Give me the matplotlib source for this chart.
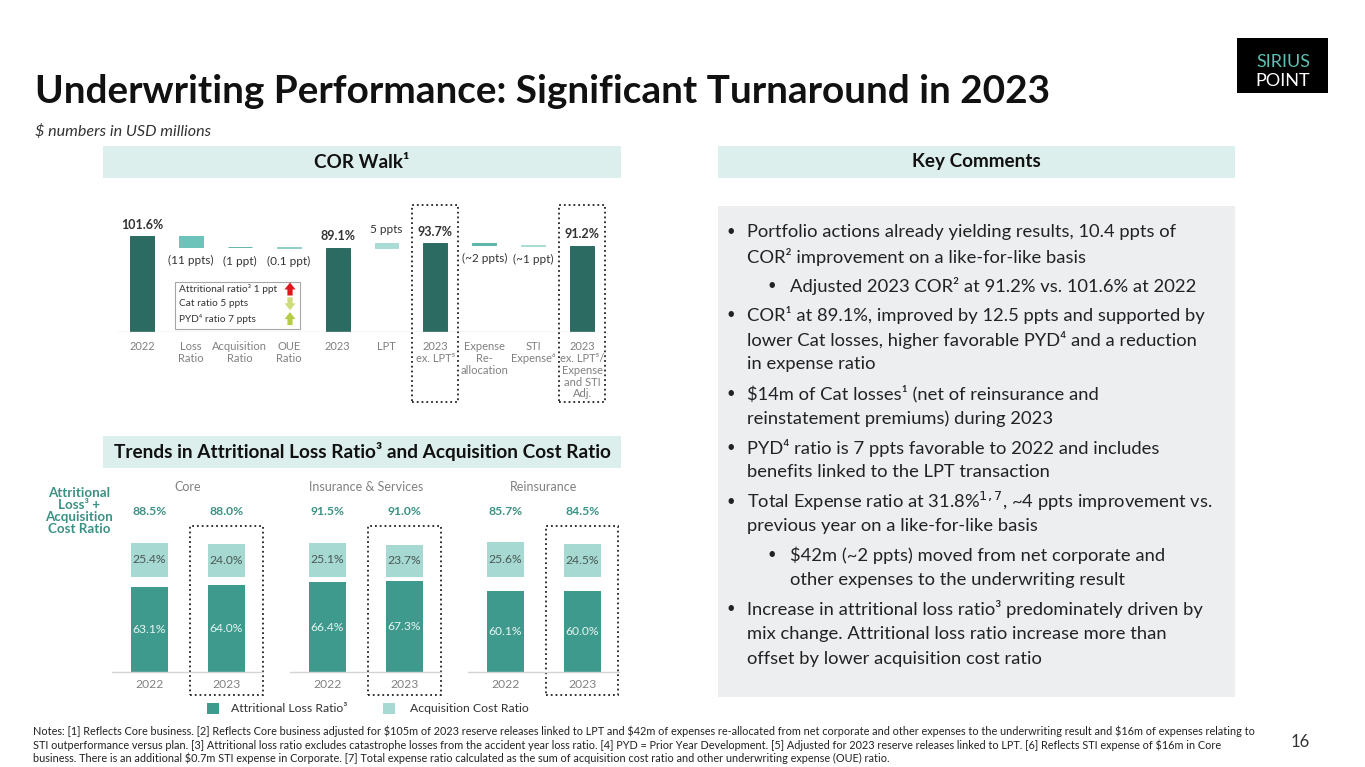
import matplotlib
matplotlib.use("Agg")
import matplotlib.pyplot as plt
from matplotlib.patches import Rectangle, Polygon

# COR walk data
cor_cats = ["2022", "Loss\nRatio", "Acquisition\nRatio", "OUE\nRatio", "2023", "LPT",
            "2023\nex. LPT⁵", "Expense\nRe-\nallocation", "STI\nExpense⁶",
            "2023\nex. LPT⁵/\nExpense\nand STI\nAdj."]
cor_values = [101.6, -11.4, -1.0, -0.1, 89.1, 4.6, 93.7, -1.8, -0.7, 91.2]
cor_is_total = [True, False, False, False, True, False, True, False, False, True]
cor_labels = ["101.6%", "(11 ppts)", "(1 ppt)", "(0.1 ppt)", "89.1%", "5 ppts", "93.7%",
              "(~2 ppts)", "(~1 ppt)", "91.2%"]
cor_boxed = [6, 9]

loss_notes = ["Attritional ratio³ 1 ppt", "Cat ratio 5 ppts", "PYD⁴ ratio 7 ppts"]
loss_dirs = ["up", "down", "up"]

# trends data
segments = ["Core", "Insurance & Services", "Reinsurance"]
years = ["2022", "2023"]
attritional = [[63.1, 64.0], [66.4, 67.3], [60.1, 60.0]]
acquisition = [[25.4, 24.0], [25.1, 23.7], [25.6, 24.5]]
combined = [[88.5, 88.0], [91.5, 91.0], [85.7, 84.5]]

comments = [
    (0, True, "Portfolio actions already yielding results, 10.4 ppts of"),
    (0, False, "COR² improvement on a like-for-like basis"),
    (1, True, "Adjusted 2023 COR² at 91.2% vs. 101.6% at 2022"),
    (0, True, "COR¹ at 89.1%, improved by 12.5 ppts and supported by"),
    (0, False, "lower Cat losses, higher favorable PYD⁴ and a reduction"),
    (0, False, "in expense ratio"),
    (0, True, "$14m of Cat losses¹ (net of reinsurance and"),
    (0, False, "reinstatement premiums) during 2023"),
    (0, True, "PYD⁴ ratio is 7 ppts favorable to 2022 and includes"),
    (0, False, "benefits linked to the LPT transaction"),
    (0, True, "Total Expense ratio at 31.8%$^{1,7}$, ~4 ppts improvement vs."),
    (0, False, "previous year on a like-for-like basis"),
    (1, True, "\\$42m (~2 ppts) moved from net corporate and"),
    (1, False, "other expenses to the underwriting result"),
    (0, True, "Increase in attritional loss ratio³ predominately driven by"),
    (0, False, "mix change. Attritional loss ratio increase more than"),
    (0, False, "offset by lower acquisition cost ratio"),
]

notes = [
    "Notes: [1] Reflects Core business. [2] Reflects Core business adjusted for $105m of 2023 reserve releases linked to LPT and $42m of expenses re-allocated from net corporate and other expenses to the underwriting result and $16m of expenses relating to",
    "STI outperformance versus plan. [3] Attritional loss ratio excludes catastrophe losses from the accident year loss ratio. [4] PYD = Prior Year Development. [5] Adjusted for 2023 reserve releases linked to LPT. [6] Reflects STI expense of $16m in Core",
    "business. There is an additional $0.7m STI expense in Corporate. [7] Total expense ratio calculated as the sum of acquisition cost ratio and other underwriting expense (OUE) ratio.",
]

# colours
DARK = "#2B6B62"
TEAL = "#3E9A8D"
LIGHT = "#A5D9D1"
MINT = "#DCEFEC"
GREY_BOX = "#EDEEF0"
TEAL_TXT = "#3A9184"
GREY_TXT = "#808080"
cor_colors = [DARK, "#6CC3B9", "#5FB5AA", "#8FCFC7", DARK, "#A9DCD5", DARK, "#5FB5AA", "#A9DCD5", DARK]
arrow_colors = ["#E3161C", "#CFDC7E", "#B5CC48"]

plt.rcParams["font.family"] = ["Lato", "DejaVu Sans"]

W, H = 1365, 767
fig = plt.figure(figsize=(W / 100, H / 100), dpi=100)
fig.patch.set_facecolor("white")
renderer = fig.canvas.get_renderer()


def fx(x):
    return x / W


def fy(y):
    return 1 - y / H


def box(x0, y0, x1, y1, **kw):
    fig.add_artist(Rectangle((fx(x0), fy(y1)), (x1 - x0) / W, (y1 - y0) / H,
                             transform=fig.transFigure, **kw))


def text(x, y, s, **kw):
    return fig.text(fx(x), fy(y), s, **kw)


def fit(t, width):
    w = t.get_window_extent(renderer).width
    t.set_fontsize(t.get_fontsize() * width / w)
    return t.get_fontsize()


# title and logo
t = text(35, 103, "Underwriting Performance: Significant Turnaround in 2023", fontsize=26,
         fontweight="bold", color="#111111", va="baseline")
fit(t, 1018)
t = text(35, 132, "$ numbers in USD millions", fontsize=9.5, style="italic", color="#333333",
         va="center", parse_math=False)
fit(t, 176)

box(1237, 38, 1328, 93, fc="black", ec="none")
text(1283, 62, "SIRIUS", fontsize=13, color="#5DBFB1", ha="center", va="center")
text(1283, 80.5, "POINT", fontsize=13, color="white", ha="center", va="center")

# section headers
box(103, 146, 621, 178, fc=MINT, ec="none")
box(718, 146, 1235, 178, fc=MINT, ec="none")
t = text(976, 162, "Key Comments", fontsize=11, fontweight="bold", color="#111111",
         ha="center", va="center")
hsize = fit(t, 128)
text(362, 162, "COR Walk¹", fontsize=hsize, fontweight="bold", color="#111111",
     ha="center", va="center")
box(103, 436, 621, 468, fc=MINT, ec="none")
t = text(362, 452, "Trends in Attritional Loss Ratio³ and Acquisition Cost Ratio", fontsize=11,
         fontweight="bold", color="#111111", ha="center", va="center")
fit(t, 498)

# key comments
box(718, 206, 1235, 697, fc=GREY_BOX, ec="none")
t = text(747, 232, comments[0][2], fontsize=12, color="#222222", va="center")
csize = fit(t, 429)
t.remove()
y = 232
for k, (level, bullet, line) in enumerate(comments):
    if k > 0:
        y += 29.3 if bullet else 24.6
    bx, tx = (731, 747) if level == 0 else (772, 790)
    if bullet:
        text(bx, y, "•", fontsize=csize * 0.8, color="#222222", va="center", ha="center")
    text(tx, y, line, fontsize=csize, color="#222222", va="center")

# COR walk
ax1 = fig.add_axes([fx(117), fy(332.3), (607 - 117) / W, (332.3 - 200) / H])
ax1.set_xlim(-0.511, 9.509)
ax1.set_ylim(0, 139.1)
ax1.axis("off")
ax1.axhline(0, color="#D4D4D4", lw=1)
running = 0
for i, v in enumerate(cor_values):
    if cor_is_total[i]:
        bottom = 0
        running = v
    else:
        bottom = running
        running += v
    ax1.bar(i, v, bottom=bottom, width=0.49, color=cor_colors[i], edgecolor=cor_colors[i], lw=0.7)
    if cor_is_total[i]:
        ax1.annotate(cor_labels[i], (i, v), xytext=(0, 8), textcoords="offset points",
                     ha="center", va="center", fontsize=9, fontweight="bold", color="#333333")
    elif v > 0:
        ax1.annotate(cor_labels[i], (i, bottom + v), xytext=(0, 10), textcoords="offset points",
                     ha="center", va="center", fontsize=8.5, color="#333333")
    else:
        ax1.annotate(cor_labels[i], (i, bottom + v), xytext=(0, -10), textcoords="offset points",
                     ha="center", va="center", fontsize=8.5, color="#333333")
    ax1.text(i, -9.0, cor_cats[i], ha="center", va="top", fontsize=8, color=GREY_TXT,
             linespacing=1.1, clip_on=False)
for i in cor_boxed:
    ax1.add_patch(Rectangle((i - 0.47, -73.3), 0.94, 207.2, fill=False, ls=":", lw=1.3,
                            ec="#222222", clip_on=False))

# loss ratio breakdown box
box(175, 281.7, 300, 329, fc="white", ec="#A6A6A6", lw=0.8)
for k, (note, d) in enumerate(zip(loss_notes, loss_dirs)):
    yc = 289 + 14.8 * k
    text(179, yc, note, fontsize=7.3, color="#333333", va="center")
    top, bot = yc - 6.5, yc + 6.5
    hw, sw, hl = 5.5, 2.6, 7
    if d == "up":
        pts = [(290, top), (290 + hw, top + hl), (290 + sw, top + hl), (290 + sw, bot),
               (290 - sw, bot), (290 - sw, top + hl), (290 - hw, top + hl)]
    else:
        pts = [(290, bot), (290 + hw, bot - hl), (290 + sw, bot - hl), (290 + sw, top),
               (290 - sw, top), (290 - sw, bot - hl), (290 - hw, bot - hl)]
    fig.add_artist(Polygon([(fx(a), fy(b)) for a, b in pts], closed=True,
                           transform=fig.transFigure, fc=arrow_colors[k], ec="none"))

# trends chart
GS = 2.31
BW = 0.48
ACQ_BASE = 70.3
ax2 = fig.add_axes([fx(100), fy(672), 520 / W, (672 - 470) / H])
ax2.set_xlim(-0.643, 6.110)
ax2.set_ylim(0, 149.4)
ax2.axis("off")
for g, seg in enumerate(segments):
    x0 = g * GS
    ax2.plot([x0 - 0.49, x0 + 1.48], [0, 0], color="#D4D4D4", lw=1, clip_on=False)
    ax2.text(x0 + 0.5, 137.0, seg, ha="center", va="center", fontsize=9, color=GREY_TXT)
    for j, yr in enumerate(years):
        x = x0 + j
        a = attritional[g][j]
        c = acquisition[g][j]
        ax2.bar(x, a, width=BW, color=TEAL)
        ax2.bar(x, c, bottom=ACQ_BASE, width=BW, color=LIGHT)
        ax2.text(x, a / 2, f"{a:.1f}%", ha="center", va="center", fontsize=8.7,
                 color="#E8F4F2")
        ax2.text(x, ACQ_BASE + c / 2, f"{c:.1f}%", ha="center", va="center", fontsize=8.7,
                 color="#4A5755")
        ax2.text(x, 118.6, f"{combined[g][j]:.1f}%", ha="center", va="center", fontsize=8.7,
                 fontweight="bold", color=TEAL_TXT)
        ax2.text(x, -9.6, yr, ha="center", va="center", fontsize=8.7, color=GREY_TXT,
                 clip_on=False)
        if j == 1:
            ax2.add_patch(Rectangle((x - 0.47, -17.0), 0.94, 125.2, fill=False, ls=":",
                                    lw=1.3, ec="#222222", clip_on=False))

text(79, 511, "Attritional\nLoss³ +\nAcquisition\nCost Ratio", fontsize=9.6, fontweight="bold",
     color=TEAL_TXT, ha="center", va="center", linespacing=1.0)

# legend
box(207, 702.7, 219, 714.3, fc=TEAL, ec="none")
text(231, 708.5, "Attritional Loss Ratio³", fontsize=8.8, color="#333333", va="center")
box(383, 702.7, 395, 714.3, fc=LIGHT, ec="none")
text(410, 708.5, "Acquisition Cost Ratio", fontsize=8.8, color="#333333", va="center")

# notes and page number
t = text(33, 731, notes[0], fontsize=7.5, color="#222222", va="center", parse_math=False)
nsize = fit(t, 1212)
for k, line in enumerate(notes[1:]):
    text(33, 745 + 13.5 * k, line, fontsize=nsize, color="#222222", va="center", parse_math=False)
text(1300, 742, "16", fontsize=12, color="#333333", ha="center", va="center")

fig.savefig("out.png", dpi=100)
